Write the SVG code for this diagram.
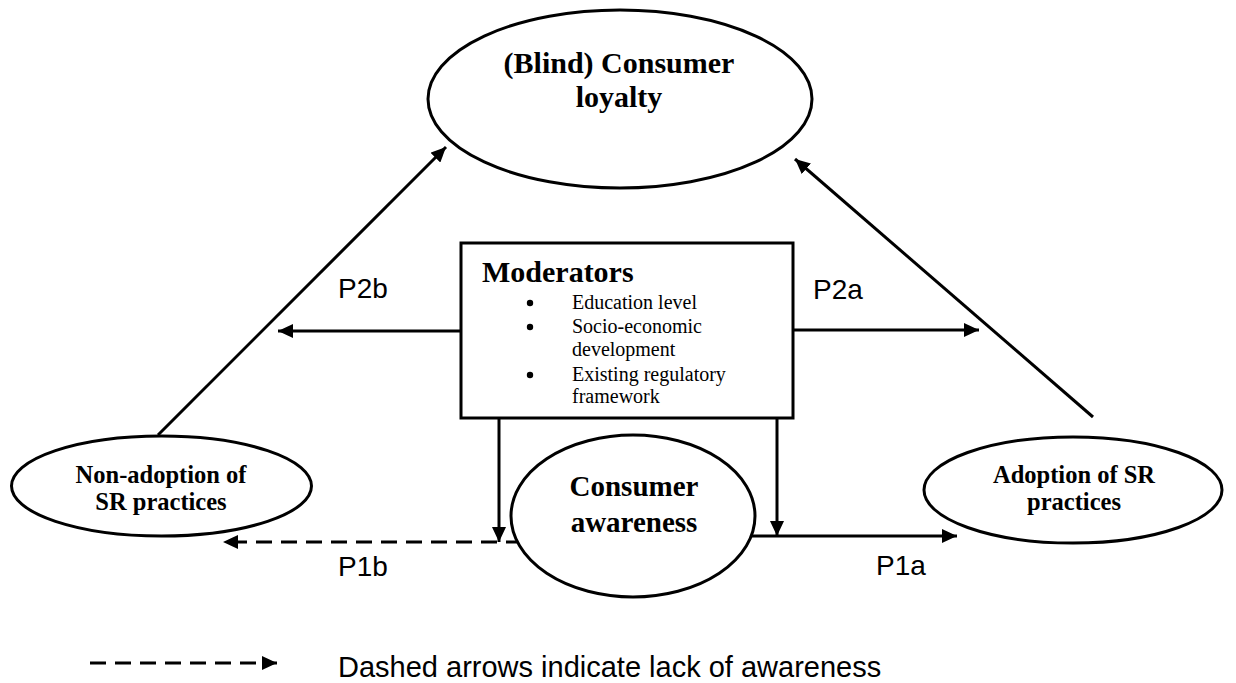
<svg xmlns="http://www.w3.org/2000/svg" width="1236" height="683" viewBox="0 0 1236 683">
<style>
.shape{fill:#fff;stroke:#000;stroke-width:3}
.ln{fill:none;stroke:#000;stroke-width:3}
.dash{stroke-dasharray:16,9}
.bt{font-family:"Liberation Serif","Times New Roman",serif;font-weight:bold;fill:#000;text-anchor:middle}
.rt{font-family:"Liberation Serif","Times New Roman",serif;font-size:20px;fill:#000}
.lab{font-family:"Liberation Sans",Arial,sans-serif;font-size:28px;fill:#000}
</style>
<defs>
<marker id="ah" markerUnits="userSpaceOnUse" markerWidth="16" markerHeight="14" refX="15" refY="7" orient="auto">
<path d="M0,0 L15,7 L0,14 z" fill="#000"/>
</marker>
</defs>
<rect width="1236" height="683" fill="#fff"/>
<g id="connectors">
<line class="ln" x1="158" y1="435" x2="446" y2="147" marker-end="url(#ah)"/>
<line class="ln" x1="1093" y1="417" x2="795" y2="159" marker-end="url(#ah)"/>
<line class="ln" x1="461" y1="331" x2="278" y2="331" marker-end="url(#ah)"/>
<line class="ln" x1="793" y1="330" x2="979" y2="330" marker-end="url(#ah)"/>
<line class="ln" x1="499" y1="418" x2="499" y2="542" marker-end="url(#ah)"/>
<line class="ln" x1="777" y1="418" x2="777" y2="536" marker-end="url(#ah)"/>
<line class="ln" x1="752" y1="536" x2="957" y2="536" marker-end="url(#ah)"/>
<line class="ln dash" x1="522" y1="542" x2="223" y2="542" marker-end="url(#ah)"/>
<text class="lab" x="338" y="298">P2b</text>
<text class="lab" x="813" y="299">P2a</text>
<text class="lab" x="338" y="576">P1b</text>
<text class="lab" x="876" y="575">P1a</text>
</g>
<g id="loyalty">
<ellipse class="shape" cx="620" cy="99" rx="192" ry="89"/>
<text class="bt" font-size="30" x="619" y="73">(Blind) Consumer</text>
<text class="bt" font-size="30" x="619" y="107">loyalty</text>
</g>
<g id="moderators">
<rect class="shape" x="461" y="243" width="332" height="175"/>
<text class="bt" font-size="30" x="482" y="282" style="text-anchor:start">Moderators</text>
<circle cx="530" cy="303" r="3.2" fill="#000"/>
<circle cx="530" cy="327" r="3.2" fill="#000"/>
<circle cx="530" cy="375" r="3.2" fill="#000"/>
<text class="rt" x="572" y="309">Education level</text>
<text class="rt" x="572" y="333">Socio-economic</text>
<text class="rt" x="572" y="356">development</text>
<text class="rt" x="572" y="381">Existing regulatory</text>
<text class="rt" x="572" y="403">framework</text>
</g>
<g id="non-adoption">
<ellipse class="shape" cx="161.5" cy="486" rx="150" ry="50"/>
<text class="bt" font-size="24.5" x="161" y="483">Non-adoption of</text>
<text class="bt" font-size="24.5" x="161" y="510">SR practices</text>
</g>
<g id="adoption">
<ellipse class="shape" cx="1073" cy="490" rx="149" ry="53"/>
<text class="bt" font-size="24.5" x="1074" y="483">Adoption of SR</text>
<text class="bt" font-size="24.5" x="1074" y="510">practices</text>
</g>
<g id="awareness">
<ellipse class="shape" cx="633" cy="516" rx="122" ry="81"/>
<text class="bt" font-size="29" x="634" y="496">Consumer</text>
<text class="bt" font-size="29" x="634" y="532">awareness</text>
</g>
<g id="legend">
<line class="ln dash" x1="90" y1="663" x2="277" y2="663" stroke-dasharray="13,10" marker-end="url(#ah)"/>
<text class="lab" font-size="29" x="338" y="677" style="font-size:29px">Dashed arrows indicate lack of awareness</text>
</g>
</svg>
